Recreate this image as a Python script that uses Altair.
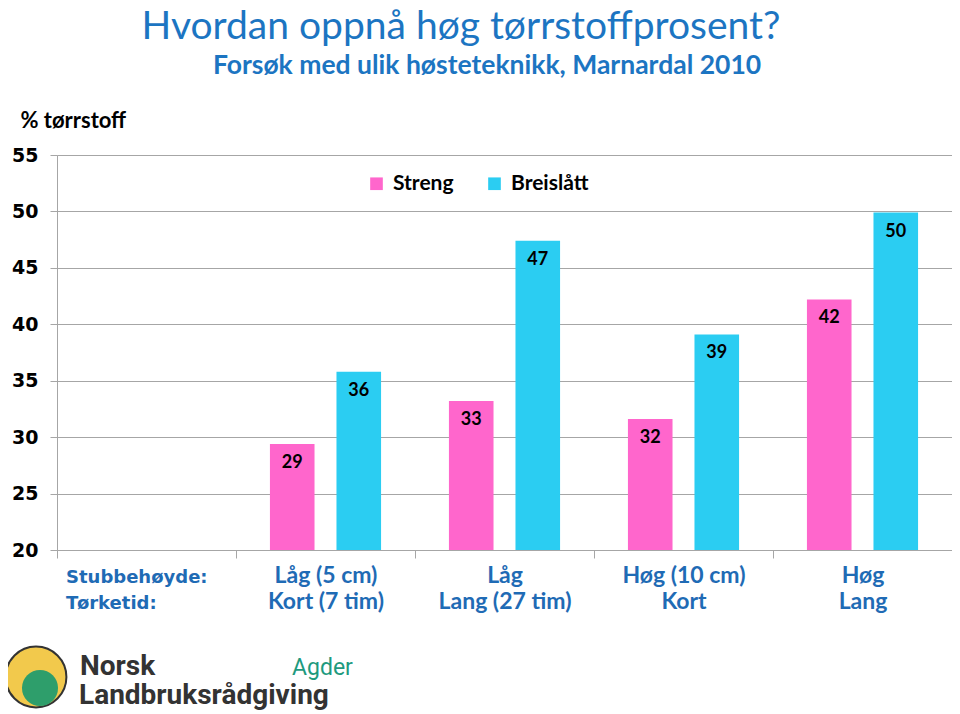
import altair as alt
import pandas as pd

categories = ["Stubbehøyde:|Tørketid:", "Låg (5 cm)|Kort (7 tim)", "Låg|Lang (27 tim)",
              "Høg (10 cm)|Kort", "Høg|Lang"]
series = ["Streng", "Breislått"]
streng = [29.4, 33.2, 31.6, 42.2]
breislatt = [35.8, 47.4, 39.1, 49.9]
colors = ["#FF66CC", "#2BCDF2"]

rows = []
for i, c in enumerate(categories[1:]):
    rows.append({"cat": c, "serie": "Streng", "val": streng[i]})
    rows.append({"cat": c, "serie": "Breislått", "val": breislatt[i]})
df = pd.DataFrame(rows)

W, H = 895, 395
first = categories[0]
isfirst = f"datum.value == '{first}'"

x = alt.X("cat:N", scale=alt.Scale(domain=categories, paddingInner=0, paddingOuter=0),
          sort=categories,
          axis=alt.Axis(title=None, labelExpr="split(datum.label, '|')", labelAngle=0,
                        labelFontWeight="bold",
                        labelColor="#1F6BB5", labelLineHeight=26, labelBaseline="top",
                        tickBand="extent", tickSize=8, tickColor="#A6A6A6",
                        domainColor="#A6A6A6", grid=False,
                        labelPadding={"expr": f"{isfirst} ? 10 : 6"},
                        labelFont={"expr": f"{isfirst} ? 'DejaVu Sans' : 'Lato'"},
                        labelFontSize={"expr": f"{isfirst} ? 18 : 23"},
                        labelAlign={"expr": f"{isfirst} ? 'left' : 'center'"},
                        labelOffset={"expr": f"{isfirst} ? -81 : 0"}))
xo = alt.XOffset("serie:N", sort=series, scale=alt.Scale(paddingInner=0.33, paddingOuter=0.51))
y = alt.Y("val:Q", scale=alt.Scale(domain=[20, 55], nice=False, zero=False),
          axis=alt.Axis(values=[20, 25, 30, 35, 40, 45, 50, 55], title="% tørrstoff",
                        titleAngle=0, titleAlign="left", titleBaseline="alphabetic",
                        titleX=-37, titleY=-28, titleFont="Lato", titleFontSize=22,
                        titleFontWeight="bold", titleColor="#000000",
                        labelFont="DejaVu Sans", labelFontWeight="bold", labelFontSize=19,
                        labelColor="#000000", labelPadding=12, tickSize=7,
                        tickColor="#A6A6A6", domainColor="#A6A6A6",
                        gridColor="#A6A6A6", gridWidth=1))

bars = alt.Chart(df).mark_bar(clip=True).encode(
    x=x, xOffset=xo, y=y, y2=alt.datum(20),
    color=alt.Color("serie:N", sort=series, scale=alt.Scale(domain=series, range=colors),
                    legend=alt.Legend(title=None, orient="none", direction="horizontal",
                                      legendX=309, legendY=18, symbolType="square",
                                      symbolSize=160, symbolStrokeWidth=0,
                                      labelFont="Lato", labelFontSize=21,
                                      labelFontWeight="bold", labelColor="#000000",
                                      columnPadding=30, labelOffset=6, padding=0)),
)
labels = alt.Chart(df).mark_text(font="Lato", fontSize=18, fontWeight="bold",
                                  color="#000000", baseline="middle", dy=19).encode(
    x=x, xOffset=xo, y=y, text=alt.Text("val:Q", format=".0f"))

def txt(t, px, py, size, color, font="Lato", weight="bold", align="center"):
    return alt.Chart(pd.DataFrame({"t": [t]})).mark_text(
        font=font, fontSize=size, fontWeight=weight, color=color, align=align,
        baseline="alphabetic").encode(text="t:N", x=alt.value(px - 57), y=alt.value(py - 155))

title = txt("Hvordan oppnå høg tørrstoffprosent?", 461, 39, 39, "#1C75C2", weight="normal")
subtitle = txt("Forsøk med ulik høsteteknikk, Marnardal 2010", 487, 74, 26.5, "#1C75C2")

logo_circle = alt.Chart(pd.DataFrame({"t": [1]})).mark_point(
    shape="circle", filled=True, fill="#F2C94C", stroke="#333333", strokeWidth=2, opacity=1
).encode(x=alt.value(36 - 57), y=alt.value(677 - 155), size=alt.value(3700))
logo_inner = alt.Chart(pd.DataFrame({"t": [1]})).mark_point(
    shape="circle", filled=True, fill="#2E9E6B", opacity=1
).encode(x=alt.value(40 - 57), y=alt.value(688 - 155), size=alt.value(1300))
norsk = txt("Norsk", 80, 675, 28, "#333333", font="Roboto", align="left")
landb = txt("Landbruksrådgiving", 79, 704, 28, "#333333", font="Roboto", align="left")
agder = txt("Agder", 292, 675, 23, "#1E9A7E", font="Roboto", weight="normal", align="left")

chart = alt.layer(bars, labels, title, subtitle, logo_circle, logo_inner, norsk, landb, agder).properties(
    width=W, height=H,
    autosize=alt.AutoSizeParams(type="none"),
    padding={"left": 49, "top": 147, "right": 0, "bottom": 163},
).configure_view(stroke=None).configure(background="white")

chart.save("out.html", embed_options={"renderer": "svg", "actions": False})
